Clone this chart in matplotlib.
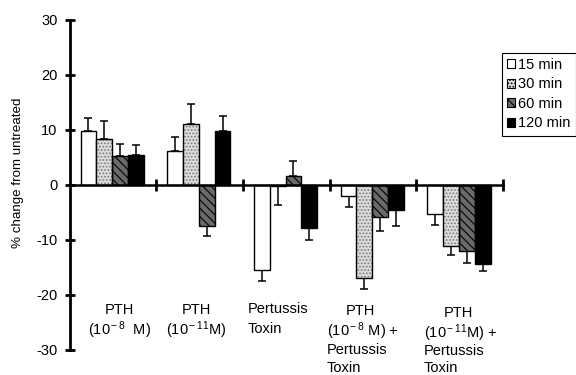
import matplotlib
matplotlib.use("Agg")
import matplotlib.pyplot as plt
import numpy as np
from matplotlib.patches import Patch

plt.rcParams['font.family'] = ['Liberation Sans', 'DejaVu Sans']
plt.rcParams['mathtext.fontset'] = 'custom'
plt.rcParams['mathtext.rm'] = 'Liberation Sans'
plt.rcParams['mathtext.it'] = 'Liberation Sans:italic'
plt.rcParams['hatch.linewidth'] = 0.8

# ---- data ----
groups = ["PTH (1e-8 M)", "PTH (1e-11 M)", "Pertussis Toxin",
          "PTH (1e-8 M) + Pertussis Toxin", "PTH (1e-11 M) + Pertussis Toxin"]
series_names = ["15 min", "30 min", "60 min", "120 min"]
t15 = [9.7, 6.1, -15.5, -2.0, -5.3]
e15 = [2.4, 2.5, 2.1, 2.1, 2.0]
t30 = [8.3, 11.0, -0.3, -17.0, -11.2]
e30 = [3.2, 3.7, 3.5, 2.0, 1.6]
t60 = [5.1, -7.6, 1.6, -5.9, -12.1]
e60 = [2.3, 1.8, 2.6, 2.6, 2.2]
t120 = [5.3, 9.8, -7.9, -4.7, -14.4]
e120 = [1.9, 2.6, 2.1, 2.8, 1.4]
yticks = [-30, -20, -10, 0, 10, 20, 30]

values = [t15, t30, t60, t120]
errors = [e15, e30, e60, e120]

W, H = 576, 375
fig = plt.figure(figsize=(W / 100, H / 100), dpi=100)
ax = fig.add_axes([69.5 / W, (H - 349.5) / H, 1 - 69.5 / W, 330 / H])
ax.set_xlim(0, (W - 69.5) / 86.7)
ax.set_ylim(-30, 30)

styles = [
    dict(color='white', hatch=None),
    dict(color='#dcdcdc', hatch='.....'),
    dict(color='#6a6a6a', hatch='\\\\\\\\'),
    dict(color='black', hatch=None),
]

x0 = np.arange(len(groups))
bw = 0.182
off = 0.128
for k, (vals, errs, st) in enumerate(zip(values, errors, styles)):
    xs = x0 + off + bw / 2 + k * bw
    vals = np.array(vals)
    errs = np.array(errs)
    if k == 1:
        ax.bar(xs, vals, width=bw, color=st['color'], edgecolor='#7a7a7a',
               hatch=st['hatch'], linewidth=0, zorder=2)
        ax.bar(xs, vals, width=bw, fill=False, edgecolor='black',
               linewidth=1.0, zorder=3)
    else:
        ax.bar(xs, vals, width=bw, color=st['color'], edgecolor='black',
               hatch=st['hatch'], linewidth=1.0, zorder=2)
    lower = np.where(vals < 0, errs, 0)
    upper = np.where(vals >= 0, errs, 0)
    ax.errorbar(xs, vals, yerr=[lower, upper], fmt='none', ecolor='black',
                elinewidth=1.1, capsize=3, capthick=1.1, zorder=1)

# spines
for s in ['top', 'right']:
    ax.spines[s].set_visible(False)
ax.spines['left'].set_bounds(-30, 30)
ax.spines['left'].set_linewidth(2.0)
ax.spines['bottom'].set_position(('data', 0))
ax.spines['bottom'].set_bounds(0, len(groups))
ax.spines['bottom'].set_linewidth(1.8)
ax.spines['bottom'].set_zorder(4)

ax.set_yticks(yticks)
ax.set_yticklabels([str(t) for t in yticks])
ax.tick_params(axis='y', direction='inout', length=7.5, width=2.0,
               labelsize=10.5, pad=5)
ax.set_xticks(np.arange(1, len(groups) + 1))
ax.set_xticklabels([])
ax.tick_params(axis='x', direction='inout', length=8, width=2.0)

ax.set_ylabel('% change from untreated', fontsize=9.6)
ax.yaxis.set_label_coords(-0.09, 0.535)

# category labels
fs = 10.5
def px2data(px, py):
    return (px - 69.5) / 86.7, (184.5 - py) / 5.5

lines = [
    [('PTH', 119, 310, 'center'), (r'(10$^{\rm -8}$  M)', 120, 330, 'center')],
    [('PTH', 196, 310, 'center'), (r'(10$^{\rm -11}$M)', 196, 330, 'center')],
    [('Pertussis', 248, 309, 'left'), ('Toxin', 248, 329, 'left')],
    [('PTH', 360, 311, 'center'), (r'(10$^{\rm -8}$ M) +', 327, 331, 'left'),
     ('Pertussis', 327, 350, 'left'), ('Toxin', 327, 368, 'left')],
    [('PTH', 458, 313, 'center'), (r'(10$^{\rm -11}$M) +', 424, 333, 'left'),
     ('Pertussis', 424, 351, 'left'), ('Toxin', 424, 368, 'left')],
]
for grp in lines:
    for txt, px, py, ha in grp:
        xd, yd = px2data(px, py)
        ax.text(xd, yd, txt, ha=ha, va='center', fontsize=fs, clip_on=False)

# legend
handles = []
for name, st in zip(series_names, styles):
    handles.append(Patch(facecolor=st['color'], edgecolor='black',
                         hatch=st['hatch'], linewidth=0.8, label=name))
leg = fig.legend(handles=handles, loc='upper left',
                 bbox_to_anchor=(501.7 / W, 1 - 52.7 / H),
                 fontsize=10.5, frameon=True, fancybox=False,
                 edgecolor='black', framealpha=1, handlelength=0.55,
                 handleheight=0.55, handletextpad=0.25, labelspacing=0.38,
                 borderpad=0.35, borderaxespad=0)
leg.get_frame().set_linewidth(0.8)

fig.savefig('out.png', dpi=100)
